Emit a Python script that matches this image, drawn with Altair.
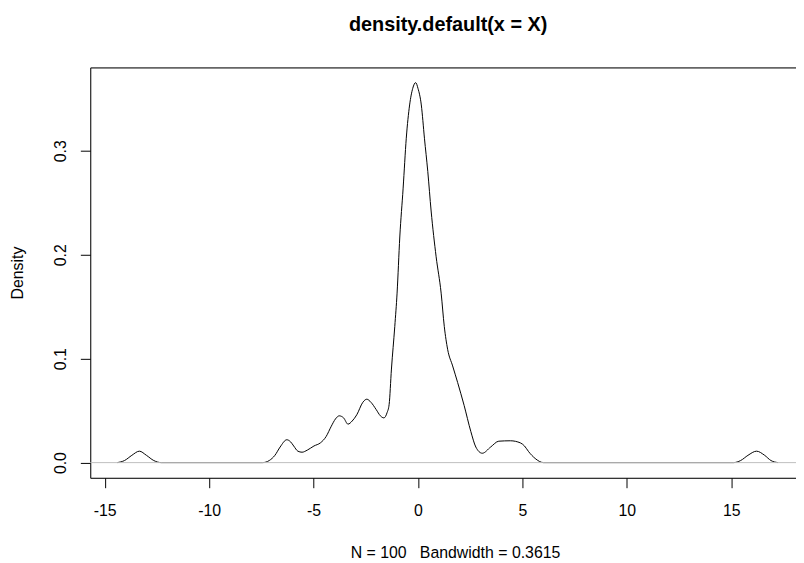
import altair as alt
import pandas as pd

# density estimate (x, density)
xs = [-14.40, -14.05, -13.70, -13.34, -13.00, -12.65, -12.29,
      -7.44, -7.12, -6.85, -6.60, -6.28, -6.10, -5.95, -5.75, -5.55, -5.30,
      -4.98, -4.67, -4.40, -4.15, -3.95, -3.77, -3.56, -3.35, -3.15, -2.93,
      -2.64, -2.45, -2.25, -2.00, -1.80, -1.63, -1.48, -1.38, -1.27, -1.11,
      -1.00, -0.87, -0.71, -0.56, -0.40, -0.25, -0.11, 0.00, 0.16, 0.31,
      0.47, 0.63, 0.87, 1.11, 1.26, 1.42, 1.66, 1.90, 2.21, 2.53, 2.77,
      3.08, 3.48, 3.87, 4.43, 4.90, 5.10, 5.30, 5.61, 6.01,
      15.11, 15.45, 15.80, 16.21, 16.60, 16.90, 17.24]
ys = [0.000, 0.002, 0.007, 0.011, 0.007, 0.002, 0.000,
      0.000, 0.002, 0.007, 0.015, 0.022, 0.020, 0.016, 0.011, 0.010, 0.012,
      0.016, 0.019, 0.025, 0.035, 0.042, 0.045, 0.043, 0.037, 0.040, 0.046,
      0.058, 0.061, 0.058, 0.051, 0.045, 0.043, 0.048, 0.056, 0.090, 0.131,
      0.163, 0.217, 0.264, 0.312, 0.344, 0.360, 0.3655, 0.360, 0.344, 0.312,
      0.280, 0.242, 0.198, 0.163, 0.131, 0.109, 0.093, 0.077, 0.055, 0.030, 0.015,
      0.009, 0.015, 0.0206, 0.021, 0.019, 0.016, 0.0105, 0.004, 0.000,
      0.000, 0.002, 0.007, 0.011, 0.007, 0.002, 0.000]

x_ticks = [-15, -10, -5, 0, 5, 10, 15]
y_ticks = [0.0, 0.1, 0.2, 0.3]
title_text = "density.default(x = X)"
x_title = "N = 100\u00a0\u00a0\u00a0Bandwidth = 0.3615"
y_title = "Density"

df = pd.DataFrame({"x": xs, "y": ys})
zero_df = pd.DataFrame({"y": [0.0]})

FONT = "Liberation Sans"
W, H = 712, 414
x_scale = alt.Scale(domain=[-15.69, 18.10], nice=False, zero=False)
y_scale = alt.Scale(domain=[-0.0146, 0.3801], nice=False, zero=False)

x_axis = alt.Axis(
    values=x_ticks, labelExpr="toString(datum.value)", orient="bottom", grid=False,
    tickSize=10, tickColor="black", domainColor="black", tickWidth=1, domainWidth=1,
    labelFont=FONT, labelFontSize=16, labelColor="black",
    labelBaseline="alphabetic", labelPadding=28, labelFlush=False,
    title=x_title, titleFont=FONT, titleFontSize=16, titleFontWeight="normal",
    titleColor="black", titleX=368, titleY=80, titleBaseline="alphabetic",
    titleAlign="center", titleAnchor="middle",
)
y_axis = alt.Axis(
    values=y_ticks, format=".1f", orient="left", grid=False,
    tickSize=10, tickColor="black", domainColor="black", tickWidth=1, domainWidth=1,
    labelFont=FONT, labelFontSize=16, labelColor="black",
    labelAngle=270, labelAlign="center", labelBaseline="bottom", labelPadding=12,
    labelFlush=False,
    title=y_title, titleFont=FONT, titleFontSize=16, titleFontWeight="normal",
    titleColor="black", titleX=-73, titleY=207, titleAngle=270,
    titleBaseline="middle", titleAlign="center",
)

line = alt.Chart(df).mark_line(color="black", strokeWidth=1, interpolate="monotone").encode(
    x=alt.X("x:Q", scale=x_scale, axis=x_axis),
    y=alt.Y("y:Q", scale=y_scale, axis=y_axis),
)

zero = alt.Chart(zero_df).mark_rule(color="#bebebe", strokeWidth=1).encode(
    y=alt.Y("y:Q", scale=y_scale, axis=None),
)

top = alt.Chart(df).mark_line(opacity=0).encode(
    x=alt.X("x:Q", scale=x_scale,
            axis=alt.Axis(orient="top", labels=False, ticks=False, grid=False,
                          domain=True, domainColor="black", domainWidth=1, title=None)),
    y=alt.Y("y:Q", scale=y_scale, axis=None),
)

chart = alt.layer(line, zero, top).resolve_axis(x="independent", y="independent").properties(
    width=W, height=H,
    title=alt.TitleParams(
        text=title_text, font=FONT, fontSize=20, fontWeight="bold", color="black",
        anchor="middle", baseline="alphabetic", offset=16.5, dx=5,
    ),
    autosize=alt.AutoSizeParams(type="none"),
    padding={"left": 83, "top": 57.5, "right": 0, "bottom": 83},
).configure_view(stroke=None).configure(background="white")

chart.save("out.html", embed_options={"renderer": "svg", "actions": False})
